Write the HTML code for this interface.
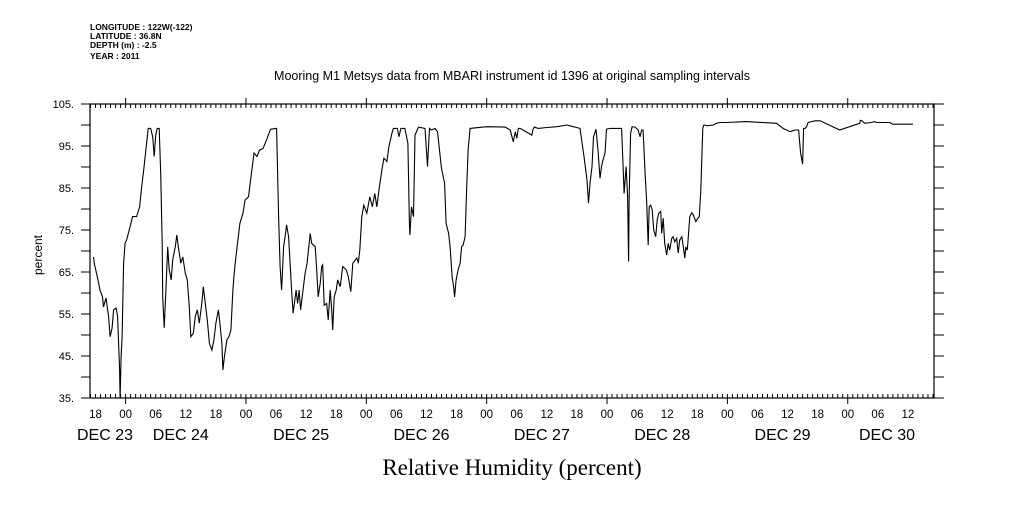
<!DOCTYPE html>
<html><head><meta charset="utf-8"><style>
body{margin:0;background:#fff;}
svg text{font-family:"Liberation Sans",sans-serif;fill:#000;}
</style></head><body>
<svg id="chart" width="1009" height="504" viewBox="0 0 1009 504" xmlns="http://www.w3.org/2000/svg">
<g font-size="8.5" style="font-weight:bold">
<text x="90" y="30">LONGITUDE : 122W(-122)</text>
<text x="90" y="39">LATITUDE : 36.8N</text>
<text x="90" y="48">DEPTH (m) : -2.5</text>
<text x="90" y="59">YEAR : 2011</text>
</g>
<text x="512" y="80" font-size="12.5" text-anchor="middle">Mooring M1 Metsys data from MBARI instrument id 1396 at original sampling intervals</text>
<text transform="translate(42,255) rotate(-90)" font-size="12" text-anchor="middle">percent</text>
<text x="512" y="475" font-size="23" text-anchor="middle" style="font-family:'Liberation Serif',serif">Relative Humidity (percent)</text>
<g id="axes"></g>
<g id="plot"></g>
</svg>
<script>
// hours since DEC 23 00:00
const hours = [17.6,17.8,17.9,18.5,18.9,19.4,19.6,20.1,20.6,20.9,21.3,21.6,22.1,22.4,22.6,22.8,22.9,23.1,23.3,23.6,23.9,24.2,24.9,25.4,26.2,26.8,27.2,27.6,28.1,28.5,29.0,29.4,29.7,30.0,30.3,30.7,31.0,31.3,31.4,31.7,32.1,32.4,32.7,33.1,33.4,33.9,34.2,34.5,35.0,35.4,35.9,36.3,36.7,37.0,37.5,37.9,38.3,38.7,39.2,39.5,39.9,40.3,40.7,41.2,41.6,42.0,42.5,42.8,43.2,43.4,43.7,44.2,44.6,45.0,45.4,45.6,46.0,46.8,47.4,47.8,48.5,49.0,49.6,50.2,50.7,51.4,52.1,52.9,54.1,54.5,54.8,55.1,55.5,55.8,56.1,56.5,56.8,57.1,57.4,58.0,58.3,58.6,58.9,59.3,59.8,60.2,60.8,61.1,61.8,62.1,62.4,62.8,63.1,63.3,63.6,64.1,64.4,64.8,65.1,65.3,65.6,66.0,66.3,66.8,67.3,68.0,68.4,68.9,69.3,70.1,70.4,70.7,71.1,71.5,72.1,72.7,73.2,73.7,74.1,74.6,75.1,75.5,76.1,76.5,77.1,77.4,78.2,78.5,78.9,79.7,80.3,80.6,80.7,81.0,81.4,81.7,82.4,83.7,84.2,84.6,85.0,85.7,86.2,86.6,87.0,87.6,87.9,88.4,88.7,89.1,89.4,89.6,89.9,90.3,90.7,91.0,91.3,91.7,92.0,92.3,92.7,96.0,99.7,100.7,101.3,101.7,102.0,102.3,102.7,105.0,105.2,105.5,106.3,108.0,110.0,112.0,112.6,114.6,115.4,116.0,116.3,116.6,117.0,117.3,117.8,118.2,118.6,118.9,119.2,119.6,119.9,120.6,122.9,123.2,123.4,123.8,124.1,124.3,124.4,124.7,125.0,125.6,126.2,126.6,126.9,127.2,127.6,127.9,128.2,128.4,128.7,129.0,129.3,129.7,130.0,130.3,130.7,130.9,131.2,131.5,131.9,132.2,132.5,132.9,133.2,133.5,133.9,134.2,134.5,134.9,135.2,135.5,135.7,136.0,136.3,136.5,136.9,137.2,137.7,138.1,138.4,138.7,139.1,139.3,139.5,139.9,141.2,141.8,142.5,143.8,147.8,153.8,155.1,156.5,157.5,158.2,158.6,159.0,159.2,159.5,159.8,160.1,160.8,161.5,162.5,166.4,170.4,170.5,170.7,171.4,172.7,173.4,173.7,176.4,177.0,181.0,182.0,184.7];
const humidity = [68.6,66.7,66.3,63.1,60.7,59.1,56.7,58.8,54.4,49.6,51.7,56.0,56.4,54.4,48.0,41.7,35.0,44.8,49.6,67.0,71.9,72.6,75.8,78.2,78.2,80.5,85.3,89.3,94.8,99.2,99.2,97.2,92.5,97.6,99.2,99.2,88.5,71.8,59.1,51.7,62.3,71.0,65.5,63.1,67.9,71.0,73.8,71.0,67.1,68.6,64.7,63.1,56.7,49.6,50.4,54.4,56.0,52.8,57.5,61.5,57.5,53.6,48.0,46.4,48.8,52.8,56.0,52.8,48.0,41.7,44.8,48.8,49.6,51.2,60.7,63.9,68.6,76.6,79.0,82.1,82.9,87.7,93.3,92.5,94.0,94.4,96.4,99.0,99.2,78.2,66.3,60.7,71.0,73.4,76.2,73.4,67.1,60.7,55.2,60.7,57.5,60.7,56.0,59.9,64.7,67.1,74.2,71.8,71.0,65.5,59.1,62.3,66.3,66.7,57.1,57.5,53.6,60.7,56.0,51.2,59.1,60.7,63.1,61.5,66.3,65.5,63.9,60.3,67.1,68.3,67.1,70.2,78.2,80.9,79.0,82.9,80.5,83.7,80.5,85.3,89.3,92.1,91.3,94.8,98.0,99.2,99.2,97.2,99.2,99.2,95.6,76.6,73.8,80.5,78.2,97.6,99.5,99.2,90.1,99.2,98.8,99.2,98.4,94.0,89.7,86.1,76.6,74.2,71.0,63.9,61.5,59.1,63.1,65.5,67.1,71.0,71.4,73.4,84.5,94.0,99.2,99.6,99.5,98.8,96.0,98.4,96.8,99.2,99.2,97.6,98.8,99.5,99.2,99.4,99.6,100.0,99.8,99.2,92.5,86.9,81.4,86.1,90.1,97.2,99.0,94.0,87.3,90.1,91.7,93.3,99.0,99.2,99.2,90.1,83.7,90.1,83.0,67.5,82.1,98.0,99.6,99.5,98.8,97.2,98.8,98.8,88.5,82.1,71.4,80.5,80.9,79.8,75.0,73.4,77.4,79.0,79.4,74.2,77.8,71.8,69.0,71.8,70.2,73.0,73.4,72.2,73.0,69.5,72.6,73.4,71.0,68.3,71.0,70.2,75.0,78.2,79.1,78.6,77.0,77.8,78.2,84.5,99.2,100.0,100.0,99.8,100.0,100.4,100.6,100.6,100.8,100.4,99.2,98.4,98.8,98.8,93.3,90.7,99.2,99.2,99.6,100.6,100.8,101.0,101.0,98.8,100.4,101.1,101.1,100.4,100.6,100.8,100.6,100.6,100.2,100.2];
const yTicks = [35,45,55,65,75,85,95,105];
const hourLabels = ["18","00","06","12"];
const dayLabels = ["DEC 23","DEC 24","DEC 25","DEC 26","DEC 27","DEC 28","DEC 29","DEC 30"];

const NS = "http://www.w3.org/2000/svg";
const L = 90, R = 934, T = 104, B = 398;
const H0 = 16.9, H1 = 185.2, V0 = 35, V1 = 105;
const xs = h => L + (h - H0) / (H1 - H0) * (R - L);
const ys = v => B - (v - V0) / (V1 - V0) * (B - T);
function mk(tag, attrs, parent) { const e = document.createElementNS(NS, tag); for (const k in attrs) e.setAttribute(k, attrs[k]); parent.appendChild(e); return e; }
const axes = document.getElementById('axes');
const plot = document.getElementById('plot');

const frame = mk('rect', {x:L, y:T, width:R-L, height:B-T, fill:'none', stroke:'#000', 'stroke-width':1.2}, axes);



for (let v = V0; v <= V1; v += 5) {
  const y = ys(v);
  const t1 = mk('line', {x1:L-9, x2:L, y1:y, y2:y, stroke:'#000'}, axes);
  
  
  const t2 = mk('line', {x1:R, x2:R+10, y1:y, y2:y, stroke:'#000'}, axes);
  
  
}
yTicks.forEach(v => {
  const t = mk('text', {x:L-16, y:ys(v)+4, 'font-size':11, 'text-anchor':'end'}, axes);
  t.textContent = v + '.';
  
  
});

for (let h = Math.ceil(H0); h <= H1; h++) {
  const x = xs(h);
  const major = h % 24 === 0;
  const tb = mk('line', {x1:x, x2:x, y1:B-4, y2:major ? B+6 : B, stroke:'#000'}, axes);
  
  
  const tt = mk('line', {x1:x, x2:x, y1:major ? T-6 : T, y2:T+4, stroke:'#000'}, axes);
  
  
  if (h % 6 === 0) {
    const lab = mk('text', {x:x, y:B+20, 'font-size':11.5, 'text-anchor':'middle'}, axes);
    lab.textContent = hourLabels[(h % 24) / 6 === 3 ? 0 : (h % 24) / 6 + 1];
    
    
  }
}
dayLabels.forEach((d, i) => {
  let cx = xs(i * 24 + 12) - 5;
  if (i === 0) cx = 105;
  if (i === dayLabels.length - 1) cx = 887;
  const t = mk('text', {x:cx, y:B+42, 'font-size':16, 'text-anchor':'middle'}, axes);
  t.textContent = d;
  
  
});

const n = Math.min(hours.length, humidity.length);
const pts = hours.slice(0, n).map((h, i) => xs(h).toFixed(1) + ',' + ys(humidity[i]).toFixed(1)).join(' ');
const line = mk('polyline', {points:pts, fill:'none', stroke:'#000', 'stroke-width':1.1}, plot);


</script>
</body></html>
